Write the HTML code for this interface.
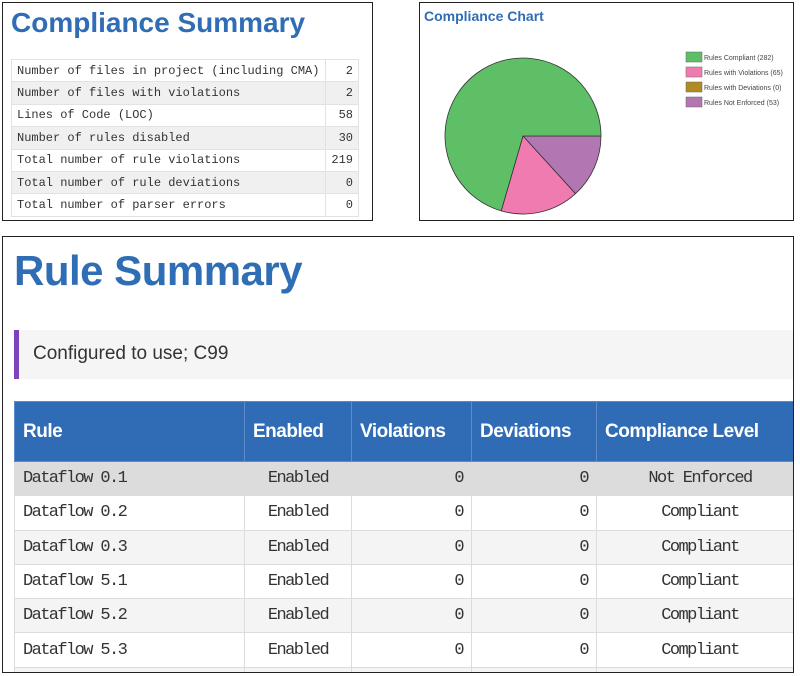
<!DOCTYPE html>
<html><head><meta charset="utf-8"><style>
*{margin:0;padding:0;box-sizing:border-box}
body{width:800px;height:676px;background:#fff;position:relative;overflow:hidden;font-family:"Liberation Sans",sans-serif}
.box{position:absolute;border:1.5px solid #222;background:#fff}
.t1{position:absolute;color:#2f6db5;font-weight:bold}
table{border-collapse:collapse;position:absolute}
.s td{font-family:"Liberation Mono",monospace;font-size:12px;color:#333;height:22.4px;border:1px solid #e2e2e2;padding:0 5px}
.s tr:nth-child(even) td{background:#f0f0f0}
.r td,.r th{border:1px solid #dcdcdc}
.r th{background:#2f6cb5;color:#fff;font-size:19px;text-align:left;padding:0 8px;height:60px;letter-spacing:-0.5px;border-color:#5b8bc8}
.r td{font-family:"Liberation Mono",monospace;font-size:17px;color:#333;height:34.3px;padding:0 8px;letter-spacing:-1.6px}
.r tr:nth-child(even) td{background:#f4f4f4}
.r tr.first td{background:#dcdcdc}
.c{text-align:center}.n{text-align:right}
</style></head><body>
<div class="box" style="left:2px;top:2px;width:371px;height:219px">
<div class="t1" style="left:8px;top:4px;font-size:28px">Compliance Summary</div>
<table class="s" style="left:8px;top:56px;width:348px">
<tr><td>Number of files in project (including CMA)</td><td class="n">2</td></tr>
<tr><td>Number of files with violations</td><td class="n">2</td></tr>
<tr><td>Lines of Code (LOC)</td><td class="n">58</td></tr>
<tr><td>Number of rules disabled</td><td class="n">30</td></tr>
<tr><td>Total number of rule violations</td><td class="n">219</td></tr>
<tr><td>Total number of rule deviations</td><td class="n">0</td></tr>
<tr><td>Total number of parser errors</td><td class="n">0</td></tr>
</table></div>
<div class="box" style="left:419px;top:2px;width:375px;height:219px">
<div class="t1" style="left:4px;top:5px;font-size:14px">Compliance Chart</div>
<svg style="position:absolute;left:-419px;top:-2px" width="800" height="230">
<path d="M522,135 L600,135 A78,78 0 0 1 574.5,192.7 Z" fill="#b277b3" stroke="#333" stroke-width="0.8"/>
<path d="M522,135 L574.5,192.7 A78,78 0 0 1 500.2,209.9 Z" fill="#f07bb0" stroke="#333" stroke-width="0.8"/>
<path d="M522,135 L500.2,209.9 A78,78 0 1 1 600,135 Z" fill="#5fbf66" stroke="#333" stroke-width="0.8"/>
<g font-size="7" fill="#444" font-family="Liberation Sans,sans-serif">
<rect x="685" y="51" width="16" height="10" fill="#5fbf66" stroke="#666" stroke-width="0.5"/><text x="703" y="59">Rules Compliant (282)</text>
<rect x="685" y="66" width="16" height="10" fill="#f07bb0" stroke="#666" stroke-width="0.5"/><text x="703" y="74">Rules with Violations (65)</text>
<rect x="685" y="81" width="16" height="10" fill="#b08a22" stroke="#666" stroke-width="0.5"/><text x="703" y="89">Rules with Deviations (0)</text>
<rect x="685" y="96" width="16" height="10" fill="#b277b3" stroke="#666" stroke-width="0.5"/><text x="703" y="104">Rules Not Enforced (53)</text>
</g></svg></div>
<div class="box" style="left:2px;top:236px;width:792px;height:437px;overflow:hidden">
<div class="t1" style="left:11px;top:10px;font-size:42px;letter-spacing:-0.5px">Rule Summary</div>
<div style="position:absolute;left:11px;top:93px;width:790px;height:49px;background:#f5f5f5;border-left:5px solid #7d43b8"></div>
<div style="position:absolute;left:30px;top:106px;font-size:19px;color:#333">Configured to use; C99</div>
<table class="r" style="left:11px;top:164px;width:790px">
<tr><th style="width:230px">Rule</th><th style="width:107px">Enabled</th><th style="width:120px">Violations</th><th style="width:125px">Deviations</th><th>Compliance Level</th></tr>
<tr class="first"><td>Dataflow 0.1</td><td class="c">Enabled</td><td class="n">0</td><td class="n">0</td><td class="c">Not Enforced</td></tr>
<tr><td>Dataflow 0.2</td><td class="c">Enabled</td><td class="n">0</td><td class="n">0</td><td class="c">Compliant</td></tr>
<tr><td>Dataflow 0.3</td><td class="c">Enabled</td><td class="n">0</td><td class="n">0</td><td class="c">Compliant</td></tr>
<tr><td>Dataflow 5.1</td><td class="c">Enabled</td><td class="n">0</td><td class="n">0</td><td class="c">Compliant</td></tr>
<tr><td>Dataflow 5.2</td><td class="c">Enabled</td><td class="n">0</td><td class="n">0</td><td class="c">Compliant</td></tr>
<tr><td>Dataflow 5.3</td><td class="c">Enabled</td><td class="n">0</td><td class="n">0</td><td class="c">Compliant</td></tr>
<tr><td>&nbsp;</td><td></td><td></td><td></td><td></td></tr>
</table></div>
</body></html>
